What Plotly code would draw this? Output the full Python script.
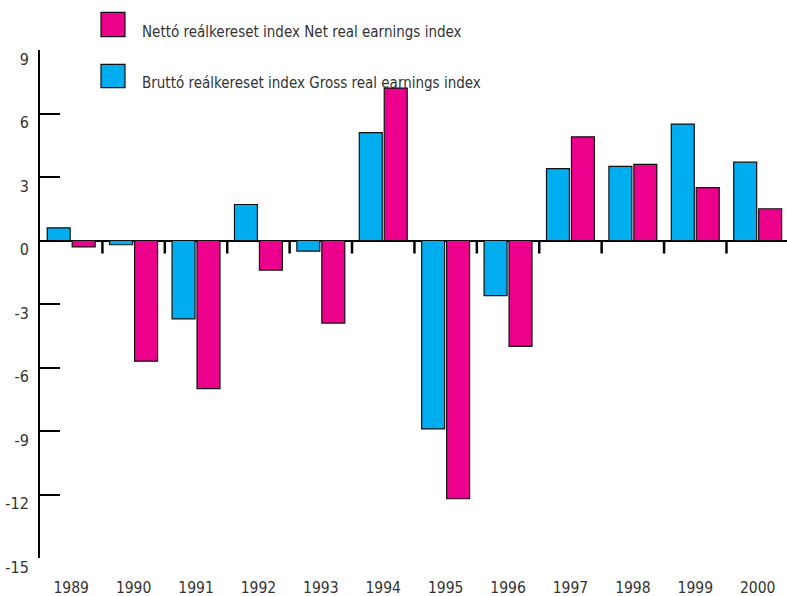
import plotly.graph_objects as go

years = ["1989", "1990", "1991", "1992", "1993", "1994",
         "1995", "1996", "1997", "1998", "1999", "2000"]
gross = [0.6, -0.2, -3.7, 1.7, -0.5, 5.1, -8.9, -2.6, 3.4, 3.5, 5.5, 3.7]
net = [-0.3, -5.7, -7.0, -1.4, -3.9, 7.2, -12.2, -5.0, 4.9, 3.6, 2.5, 1.5]
y_ticks = [-15, -12, -9, -6, -3, 0, 3, 6, 9]

net_name = "Nettó reálkereset index Net real earnings index"
gross_name = "Bruttó reálkereset index Gross real earnings index"

blue = "#00AEEF"
pink = "#EC008C"
font_fam = "Liberation Sans Narrow, Arial Narrow, DejaVu Sans Condensed, sans-serif"
txt = "#333333"

W, H = 787, 596
ml, mr, mt, mb = 40, 0, 50, 38
pw, ph = W - ml - mr, H - mt - mb

def px(x):
    return (x - ml) / pw

def py(y):
    return (H - mb - y) / ph

fig = go.Figure()
fig.add_trace(go.Bar(x=years, y=gross, name=gross_name, marker_color=blue,
                     marker_line=dict(color="#111111", width=1.2), showlegend=False))
fig.add_trace(go.Bar(x=years, y=net, name=net_name, marker_color=pink,
                     marker_line=dict(color="#111111", width=1.2), showlegend=False))

# group separator ticks hanging under the zero line
shapes = [dict(type="line", xref="x", yref="y", ysizemode="pixel", yanchor=0,
               x0=i + 0.5, x1=i + 0.5, y0=0, y1=-13,
               line=dict(color="black", width=2.5))
          for i in range(len(years) - 1)]

# hand made legend with large swatches, text sits a bit below swatch centre
annotations = []
for (top, bot, color, name) in [(12.3, 36.7, pink, net_name), (64.3, 87.7, blue, gross_name)]:
    shapes.append(dict(type="rect", xref="paper", yref="paper",
                       x0=px(101), x1=px(125), y0=py(bot), y1=py(top),
                       fillcolor=color, line=dict(color="#111111", width=1.2)))
    annotations.append(dict(text=name, xref="paper", yref="paper",
                            x=px(140), y=py((top + bot) / 2 + 7), xanchor="left",
                            yanchor="middle", showarrow=False,
                            font=dict(size=15, color=txt, family=font_fam)))

fig.update_layout(
    width=W, height=H,
    margin=dict(l=ml, r=mr, t=mt, b=mb),
    plot_bgcolor="white", paper_bgcolor="white",
    barmode="group", bargap=0.2, bargroupgap=0.08,
    shapes=shapes, annotations=annotations,
    font=dict(family=font_fam, color=txt),
    xaxis=dict(type="category", range=[-0.5, 11.47], showgrid=False,
               showline=False, ticks="", tickfont=dict(size=15.5, color=txt),
               ticklabelstandoff=18, automargin=False),
    yaxis=dict(range=[-15, 9], tickvals=y_ticks, ticktext=[str(v) for v in y_ticks],
               showgrid=False, automargin=False,
               showline=True, linecolor="black", linewidth=2,
               ticks="inside", ticklen=20, tickwidth=2, tickcolor="black",
               zeroline=True, zerolinecolor="black", zerolinewidth=2,
               tickfont=dict(size=16, color=txt), ticklabelshift=9,
               ticklabelstandoff=6),
)

# drop the default page margin so the figure sits at the window corner
fig.write_html("out.html", config={"displayModeBar": False},
               post_script="document.body.style.margin='0';")
